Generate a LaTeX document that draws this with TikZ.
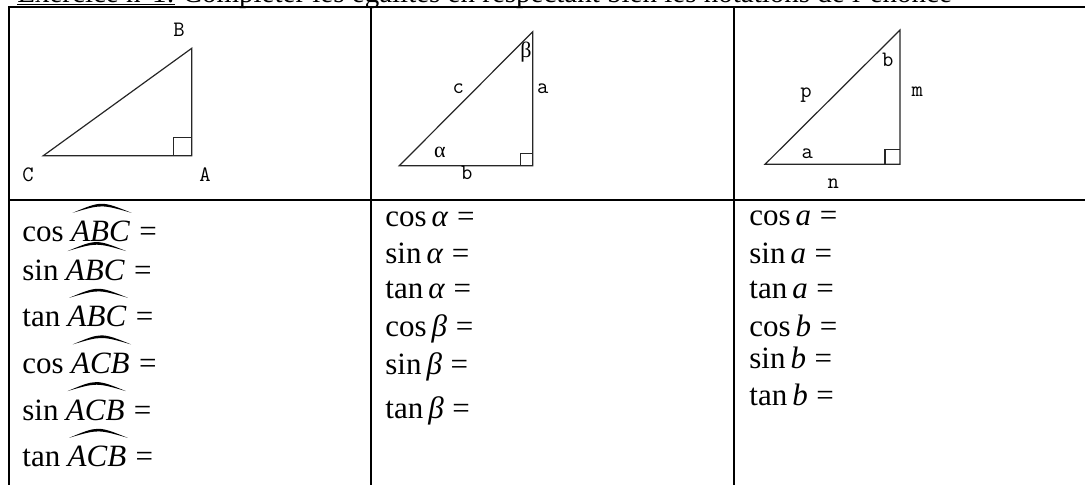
\documentclass[tikz,border=0pt]{standalone}
\usepackage{fontspec}
\setmainfont{Liberation Serif}
\usetikzlibrary{calc}
\begin{document}
\begin{tikzpicture}[x=0.5pt,y=-0.5pt,
  gridline/.style={line width=0.75pt},
  tri/.style={line width=0.6pt, black!85},
  lbl/.style={font=\fontsize{11}{12}\ttfamily, inner sep=0},
  hdr/.style={font=\fontsize{14.5}{17}\selectfont, inner sep=0, anchor=base west},
  eq/.style={font=\fontsize{15.5}{18}\selectfont, inner sep=0, anchor=base west},
]
\useasboundingbox (0,0) rectangle (1085,484);
% header
\node[hdr] (h1) at (17,2.5) {Exercice n°1:};
\node[hdr] (h2) at ([xshift=3.6pt]h1.base east) {Compléter les égalités en respectant bien les notations de l'énoncé};
\draw[line width=0.65pt] ([yshift=-1pt]h1.base west) -- ([yshift=-1pt]h1.base east);
% table
\coordinate (tl) at (9,7);
\draw[gridline] (9,500) -- (tl) -- (1100,7);
\draw[gridline] (371,7) -- (371,500);
\draw[gridline] (734,7) -- (734,500);
\draw[gridline] (9,200) -- (1100,200);
% triangle 1
\coordinate (C) at (43.3,155.7);
\coordinate (A) at (191.7,155.7);
\coordinate (B) at (191.7,48.3);
\draw[tri] (C) -- (A) -- (B) -- cycle;
\draw[tri] ($(A)+(-18,0)$) -- ($(A)+(-18,-18)$) -- ($(A)+(0,-18)$);
\node[lbl] (lB) at (179,30) {B};
\node[lbl] (lC) at (28,175) {C};
\node[lbl] (lA) at (205,175) {A};
% triangle 2
\coordinate (L2) at (399.3,165.7);
\coordinate (R2) at (532.7,165.7);
\coordinate (T2) at (532.7,31.7);
\draw[tri] (L2) -- (R2) -- (T2) -- cycle;
\draw[tri] ($(R2)+(-12,0)$) -- ($(R2)+(-12,-12)$) -- ($(R2)+(0,-12)$);
\node[lbl] (lbeta) at (526,51.7) {\rmfamily β};
\node[lbl] (lc) at (458.3,88.3) {c};
\node[lbl] (la) at (542.7,88.3) {a};
\node[lbl] (lalpha) at (440,152.7) {\rmfamily α};
\node[lbl] (lb) at (466.7,173.3) {b};
% triangle 3
\coordinate (L3) at (765,164.3);
\coordinate (R3) at (900,164.3);
\coordinate (T3) at (900,30);
\draw[tri] (L3) -- (R3) -- (T3) -- cycle;
\draw[tri] ($(R3)+(-15,0)$) -- ($(R3)+(-15,-15)$) -- ($(R3)+(0,-15)$);
\node[lbl] (lb3) at (887.7,60) {b};
\node[lbl] (lp3) at (806,95) {p};
\node[lbl] (lm3) at (917.3,91.7) {m};
\node[lbl] (la3) at (807.3,154) {a};
\node[lbl] (ln3) at (833.3,183.3) {n};
% column 1
\foreach \fn/\ang/\yy [count=\i] in {cos/ABC/241.7, sin/ABC/280, tan/ABC/326.7, cos/ACB/373.3, sin/ACB/420, tan/ACB/466.7} {
  \node[eq] (f\i) at (22,\yy) {\fn};
  \node[eq] (v\i) at ([xshift=3.3pt]f\i.base east) {\textit{\ang}};
  \node[eq] (q\i) at ([xshift=4.3pt]v\i.base east) {=};
  \fill ($(v\i.north west)+(2,-8)$) .. controls ($(v\i.north)+(1,-20)$) .. ($(v\i.north east)+(1,-8)$)
        .. controls ($(v\i.north)+(1,-16.5)$) .. cycle;
}
% column 2
\foreach \fn/\ang/\yy [count=\i] in {cos/α/226.7, sin/α/263.3, tan/α/298.3, cos/β/336.7, sin/β/374.3, tan/β/418.3} {
  \node[eq] (g\i) at (385,\yy) {\fn\hspace{2.5pt}\textit{\ang}\hspace{4.3pt}=};
}
% column 3
\foreach \fn/\ang/\yy [count=\i] in {cos/a/225, sin/a/263.3, tan/a/298.3, cos/b/336, sin/b/368.3, tan/b/405} {
  \node[eq] (k\i) at (749,\yy) {\fn\hspace{2.5pt}\textit{\ang}\hspace{4.3pt}=};
}
\end{tikzpicture}
\end{document}
